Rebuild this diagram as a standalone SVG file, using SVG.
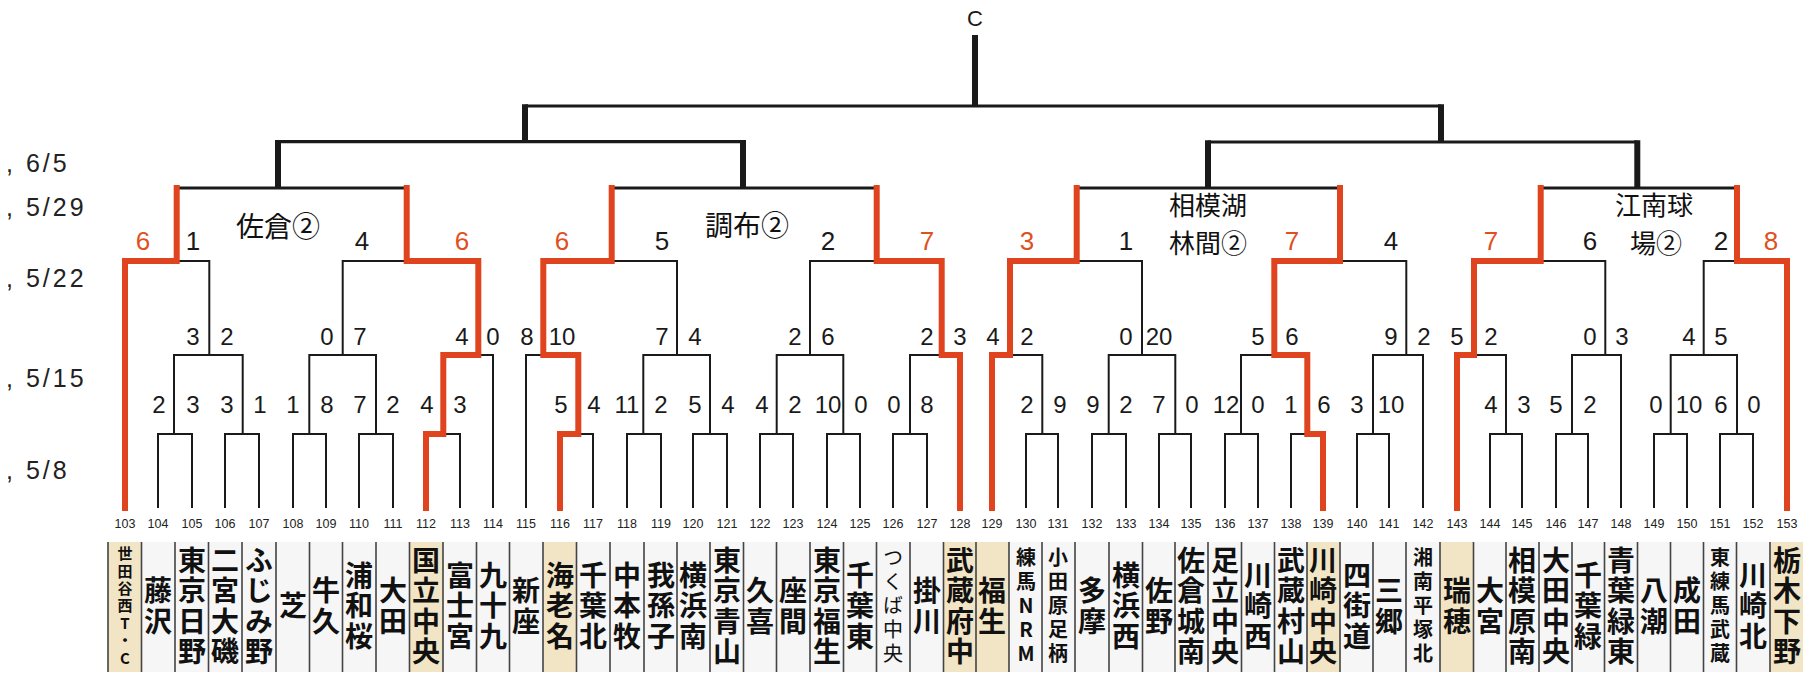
<svg xmlns="http://www.w3.org/2000/svg" width="1804" height="676" viewBox="0 0 1804 676">
<style>
.ln{stroke:#1a1a1a;stroke-width:2;fill:none;stroke-linejoin:miter}
.h3{stroke:#1a1a1a;stroke-width:3.2;fill:none}
.v6{stroke:#1a1a1a;stroke-width:6;fill:none}
.rd{stroke:#e0441e;stroke-width:6;fill:none;stroke-linejoin:miter;stroke-linecap:square}
.sc{font-family:'Liberation Sans',Arial,sans-serif;font-size:24px;text-anchor:middle;fill:#1a1a1a}
.s3{font-size:26px}
.red{fill:#e0501e}
.no{font-family:'Liberation Sans',Arial,sans-serif;font-size:12.5px;text-anchor:middle;fill:#222}
.nm{font-family:'Noto Sans CJK JP','Noto Sans CJK SC',sans-serif;font-weight:700;font-size:28px;writing-mode:vertical-rl;text-orientation:upright;text-anchor:middle;letter-spacing:2.5px;fill:#111}
.n5{font-size:20px;letter-spacing:4px}
.n7{font-size:15px;letter-spacing:2.4px}
.reg{font-weight:400}
.cell{fill:#f6f6f6}
.win{fill:#f2e5c6}
.sep{stroke:#444;stroke-width:1.6}
.lbl{font-family:'Noto Sans CJK JP','Noto Sans CJK SC',sans-serif;font-size:28px;text-anchor:middle;fill:#111}
.l2{font-size:26px}
.dt{font-family:'Liberation Sans',Arial,sans-serif;font-size:25px;letter-spacing:3px;fill:#222}
</style>
<rect width="1804" height="676" fill="#ffffff"/>

<g id="dates">
<text class="dt" x="6" y="172">, 6/5</text>
<text class="dt" x="6" y="216">, 5/29</text>
<text class="dt" x="6" y="287">, 5/22</text>
<text class="dt" x="6" y="387">, 5/15</text>
<text class="dt" x="6" y="479">, 5/8</text>
</g>

<g id="title-c"><text x="975" y="26" font-family="'Liberation Sans',Arial,sans-serif" font-size="22" text-anchor="middle" fill="#1a1a1a">C</text></g>

<g id="connectors">
<!-- Q1 -->
<path class="ln" d="M158 508V434H192V508M225 508V434H259V508M293 508V434H326V508M359 508V434H393V508M426 508V434H460V508"/>
<path class="ln" d="M174 434V355H242.7V434M309.3 434V355H376V434M443.3 434V355H493V508"/>
<path class="ln" d="M125 508V261H209.3V355M342.7 355V261H478.3V355"/>
<!-- Q2 -->
<path class="ln" d="M560 508V434H593V508M627 508V434H661V508M693 508V434H727V508M760 508V434H793V508M827 508V434H860V508M893 508V434H927V508"/>
<path class="ln" d="M526 508V355H578.3V434M643.3 434V355H710V434M776.7 434V355H843.3V434M910 434V355H960V508"/>
<path class="ln" d="M543.3 355V261H677V355M810 355V261H941.7V355"/>
<!-- Q3 -->
<path class="ln" d="M1026 508V434H1058V508M1092 508V434H1126V508M1159 508V434H1191V508M1225 508V434H1258V508M1291 508V434H1323V508M1357 508V434H1389V508"/>
<path class="ln" d="M992 508V355H1042.3V434M1108.7 434V355H1175.3V434M1241 434V355H1307.3V434M1373 434V355H1423V508"/>
<path class="ln" d="M1010 355V261H1142V355M1274.3 355V261H1406.3V355"/>
<!-- Q4 -->
<path class="ln" d="M1490 508V434H1522V508M1556 508V434H1588V508M1654 508V434H1687V508M1720 508V434H1753V508"/>
<path class="ln" d="M1457 508V355H1506V434M1572 434V355H1621V508M1670.7 434V355H1737V434"/>
<path class="ln" d="M1474 355V261H1605.3V355M1703.7 355V261H1787V508"/>
<!-- R4 bars -->
<path class="h3" d="M176.7 188H406.7M611.7 188H876.7M1076.7 188H1340M1540.7 188H1737"/>
<!-- top structure -->
<path class="h3" d="M278 141.7H743M1208 142H1637.3M525 106H1441"/>
<path class="v6" d="M278 188V140M743 188V140M1208 188V140.3M1637.3 188V140.3M525 142V104.3M1441 142V104.3M975 106V35"/>
<!-- winners (red) -->
<path class="rd" d="M125 508V261H176.7V188"/>
<path class="rd" d="M426 508V434H443.3V355H478.3V261H406.7V188"/>
<path class="rd" d="M560 508V434H578.3V355H543.3V261H611.7V188"/>
<path class="rd" d="M960 508V355H941.7V261H876.7V188"/>
<path class="rd" d="M992 508V355H1010V261H1076.7V188"/>
<path class="rd" d="M1323 508V434H1307.3V355H1274.3V261H1340V188"/>
<path class="rd" d="M1457 508V355H1474V261H1540.7V188"/>
<path class="rd" d="M1787 508V261H1737V188"/>
</g>

<g id="scores">
<!-- round 1 -->
<text class="sc" x="159" y="413">2</text><text class="sc" x="193" y="413">3</text><text class="sc" x="227" y="413">3</text><text class="sc" x="260" y="413">1</text>
<text class="sc" x="293" y="413">1</text><text class="sc" x="327" y="413">8</text><text class="sc" x="360" y="413">7</text><text class="sc" x="393" y="413">2</text>
<text class="sc" x="427" y="413">4</text><text class="sc" x="460" y="413">3</text>
<text class="sc" x="561" y="413">5</text><text class="sc" x="594" y="413">4</text><text class="sc" x="627" y="413">11</text><text class="sc" x="661" y="413">2</text>
<text class="sc" x="695" y="413">5</text><text class="sc" x="728" y="413">4</text><text class="sc" x="762" y="413">4</text><text class="sc" x="795" y="413">2</text>
<text class="sc" x="828" y="413">10</text><text class="sc" x="861" y="413">0</text><text class="sc" x="894" y="413">0</text><text class="sc" x="927" y="413">8</text>
<text class="sc" x="1027" y="413">2</text><text class="sc" x="1060" y="413">9</text><text class="sc" x="1093" y="413">9</text><text class="sc" x="1126" y="413">2</text>
<text class="sc" x="1159" y="413">7</text><text class="sc" x="1192" y="413">0</text><text class="sc" x="1226" y="413">12</text><text class="sc" x="1258" y="413">0</text>
<text class="sc" x="1291" y="413">1</text><text class="sc" x="1324" y="413">6</text><text class="sc" x="1357" y="413">3</text><text class="sc" x="1391" y="413">10</text>
<text class="sc" x="1491" y="413">4</text><text class="sc" x="1524" y="413">3</text><text class="sc" x="1556" y="413">5</text><text class="sc" x="1590" y="413">2</text>
<text class="sc" x="1656" y="413">0</text><text class="sc" x="1689" y="413">10</text><text class="sc" x="1721" y="413">6</text><text class="sc" x="1754" y="413">0</text>
<!-- round 2 -->
<text class="sc" x="193" y="345">3</text><text class="sc" x="227" y="345">2</text><text class="sc" x="327" y="345">0</text><text class="sc" x="360" y="345">7</text>
<text class="sc" x="462" y="345">4</text><text class="sc" x="493" y="345">0</text>
<text class="sc" x="527" y="345">8</text><text class="sc" x="562" y="345">10</text><text class="sc" x="662" y="345">7</text><text class="sc" x="695" y="345">4</text>
<text class="sc" x="795" y="345">2</text><text class="sc" x="828" y="345">6</text><text class="sc" x="927" y="345">2</text><text class="sc" x="960" y="345">3</text>
<text class="sc" x="993" y="345">4</text><text class="sc" x="1027" y="345">2</text><text class="sc" x="1126" y="345">0</text><text class="sc" x="1159" y="345">20</text>
<text class="sc" x="1258" y="345">5</text><text class="sc" x="1292" y="345">6</text><text class="sc" x="1391" y="345">9</text><text class="sc" x="1424" y="345">2</text>
<text class="sc" x="1457" y="345">5</text><text class="sc" x="1491" y="345">2</text><text class="sc" x="1590" y="345">0</text><text class="sc" x="1622" y="345">3</text>
<text class="sc" x="1689" y="345">4</text><text class="sc" x="1721" y="345">5</text>
<!-- round 3 -->
<text class="sc s3 red" x="143" y="250">6</text><text class="sc s3" x="193" y="250">1</text><text class="sc s3" x="362" y="250">4</text><text class="sc s3 red" x="462" y="250">6</text>
<text class="sc s3 red" x="562" y="250">6</text><text class="sc s3" x="662" y="250">5</text><text class="sc s3" x="828" y="250">2</text><text class="sc s3 red" x="927" y="250">7</text>
<text class="sc s3 red" x="1027" y="250">3</text><text class="sc s3" x="1126" y="250">1</text><text class="sc s3 red" x="1292" y="250">7</text><text class="sc s3" x="1391" y="250">4</text>
<text class="sc s3 red" x="1491" y="250">7</text><text class="sc s3" x="1590" y="250">6</text><text class="sc s3" x="1721" y="250">2</text><text class="sc s3 red" x="1771" y="250">8</text>
</g>

<g id="venue-sakura"><text class="lbl" x="278" y="237">佐倉②</text></g>
<g id="venue-chofu"><text class="lbl" x="747" y="236">調布②</text></g>
<g id="venue-sagamiko"><text class="lbl l2" x="1208" y="215">相模湖<tspan x="1208" dy="38">林間②</tspan></text></g>
<g id="venue-konan"><text class="lbl l2" x="1654" y="215">江南球<tspan x="1656" dy="38">場②</tspan></text></g>

<g id="teams">
<g id="t103"><rect class="win" x="108" y="542" width="33.5" height="130"/><text class="no" x="125" y="528">103</text><text class="nm n7" x="125" y="607">世田谷西T・C</text></g>
<g id="t104"><rect class="cell" x="141.5" y="542" width="33.5" height="130"/><text class="no" x="158" y="528">104</text><text class="nm" x="158" y="607">藤沢</text></g>
<g id="t105"><rect class="cell" x="175" y="542" width="33.5" height="130"/><text class="no" x="192" y="528">105</text><text class="nm" x="192" y="607">東京日野</text></g>
<g id="t106"><rect class="cell" x="208.5" y="542" width="33.5" height="130"/><text class="no" x="225" y="528">106</text><text class="nm" x="225" y="607">二宮大磯</text></g>
<g id="t107"><rect class="cell" x="242" y="542" width="34" height="130"/><text class="no" x="259" y="528">107</text><text class="nm" x="259" y="607">ふじみ野</text></g>
<g id="t108"><rect class="cell" x="276" y="542" width="33.5" height="130"/><text class="no" x="293" y="528">108</text><text class="nm" x="293" y="607">芝</text></g>
<g id="t109"><rect class="cell" x="309.5" y="542" width="33" height="130"/><text class="no" x="326" y="528">109</text><text class="nm" x="326" y="607">牛久</text></g>
<g id="t110"><rect class="cell" x="342.5" y="542" width="33.5" height="130"/><text class="no" x="359" y="528">110</text><text class="nm" x="359" y="607">浦和桜</text></g>
<g id="t111"><rect class="cell" x="376" y="542" width="33.5" height="130"/><text class="no" x="393" y="528">111</text><text class="nm" x="393" y="607">大田</text></g>
<g id="t112"><rect class="win" x="409.5" y="542" width="33.5" height="130"/><text class="no" x="426" y="528">112</text><text class="nm" x="426" y="607">国立中央</text></g>
<g id="t113"><rect class="cell" x="443" y="542" width="33.5" height="130"/><text class="no" x="460" y="528">113</text><text class="nm" x="460" y="607">富士宮</text></g>
<g id="t114"><rect class="cell" x="476.5" y="542" width="33" height="130"/><text class="no" x="493" y="528">114</text><text class="nm" x="493" y="607">九十九</text></g>
<g id="t115"><rect class="cell" x="509.5" y="542" width="33.5" height="130"/><text class="no" x="526" y="528">115</text><text class="nm" x="526" y="607">新座</text></g>
<g id="t116"><rect class="win" x="543" y="542" width="33.5" height="130"/><text class="no" x="560" y="528">116</text><text class="nm" x="560" y="607">海老名</text></g>
<g id="t117"><rect class="cell" x="576.5" y="542" width="33.5" height="130"/><text class="no" x="593" y="528">117</text><text class="nm" x="593" y="607">千葉北</text></g>
<g id="t118"><rect class="cell" x="610" y="542" width="34" height="130"/><text class="no" x="627" y="528">118</text><text class="nm" x="627" y="607">中本牧</text></g>
<g id="t119"><rect class="cell" x="644" y="542" width="33" height="130"/><text class="no" x="661" y="528">119</text><text class="nm" x="661" y="607">我孫子</text></g>
<g id="t120"><rect class="cell" x="677" y="542" width="33" height="130"/><text class="no" x="693" y="528">120</text><text class="nm" x="693" y="607">横浜南</text></g>
<g id="t121"><rect class="cell" x="710" y="542" width="33.5" height="130"/><text class="no" x="727" y="528">121</text><text class="nm" x="727" y="607">東京青山</text></g>
<g id="t122"><rect class="cell" x="743.5" y="542" width="33" height="130"/><text class="no" x="760" y="528">122</text><text class="nm" x="760" y="607">久喜</text></g>
<g id="t123"><rect class="cell" x="776.5" y="542" width="33.5" height="130"/><text class="no" x="793" y="528">123</text><text class="nm" x="793" y="607">座間</text></g>
<g id="t124"><rect class="cell" x="810" y="542" width="33.5" height="130"/><text class="no" x="827" y="528">124</text><text class="nm" x="827" y="607">東京福生</text></g>
<g id="t125"><rect class="cell" x="843.5" y="542" width="33" height="130"/><text class="no" x="860" y="528">125</text><text class="nm" x="860" y="607">千葉東</text></g>
<g id="t126"><rect class="cell" x="876.5" y="542" width="33.5" height="130"/><text class="no" x="893" y="528">126</text><text class="nm n5 reg" x="893" y="607">つくば中央</text></g>
<g id="t127"><rect class="cell" x="910" y="542" width="33.5" height="130"/><text class="no" x="927" y="528">127</text><text class="nm" x="927" y="607">掛川</text></g>
<g id="t128"><rect class="win" x="943.5" y="542" width="32.5" height="130"/><text class="no" x="960" y="528">128</text><text class="nm" x="960" y="607">武蔵府中</text></g>
<g id="t129"><rect class="win" x="976" y="542" width="33" height="130"/><text class="no" x="992" y="528">129</text><text class="nm" x="992" y="607">福生</text></g>
<g id="t130"><rect class="cell" x="1009" y="542" width="33" height="130"/><text class="no" x="1026" y="528">130</text><text class="nm n5" x="1026" y="607">練馬NRM</text></g>
<g id="t131"><rect class="cell" x="1042" y="542" width="33" height="130"/><text class="no" x="1058" y="528">131</text><text class="nm n5" x="1058" y="607">小田原足柄</text></g>
<g id="t132"><rect class="cell" x="1075" y="542" width="34" height="130"/><text class="no" x="1092" y="528">132</text><text class="nm" x="1092" y="607">多摩</text></g>
<g id="t133"><rect class="cell" x="1109" y="542" width="33.5" height="130"/><text class="no" x="1126" y="528">133</text><text class="nm" x="1126" y="607">横浜西</text></g>
<g id="t134"><rect class="cell" x="1142.5" y="542" width="32.5" height="130"/><text class="no" x="1159" y="528">134</text><text class="nm" x="1159" y="607">佐野</text></g>
<g id="t135"><rect class="cell" x="1175" y="542" width="33" height="130"/><text class="no" x="1191" y="528">135</text><text class="nm" x="1191" y="607">佐倉城南</text></g>
<g id="t136"><rect class="cell" x="1208" y="542" width="33.5" height="130"/><text class="no" x="1225" y="528">136</text><text class="nm" x="1225" y="607">足立中央</text></g>
<g id="t137"><rect class="cell" x="1241.5" y="542" width="33" height="130"/><text class="no" x="1258" y="528">137</text><text class="nm" x="1258" y="607">川崎西</text></g>
<g id="t138"><rect class="cell" x="1274.5" y="542" width="32.5" height="130"/><text class="no" x="1291" y="528">138</text><text class="nm" x="1291" y="607">武蔵村山</text></g>
<g id="t139"><rect class="win" x="1307" y="542" width="33" height="130"/><text class="no" x="1323" y="528">139</text><text class="nm" x="1323" y="607">川崎中央</text></g>
<g id="t140"><rect class="cell" x="1340" y="542" width="33" height="130"/><text class="no" x="1357" y="528">140</text><text class="nm" x="1357" y="607">四街道</text></g>
<g id="t141"><rect class="cell" x="1373" y="542" width="33" height="130"/><text class="no" x="1389" y="528">141</text><text class="nm" x="1389" y="607">三郷</text></g>
<g id="t142"><rect class="cell" x="1406" y="542" width="34" height="130"/><text class="no" x="1423" y="528">142</text><text class="nm n5" x="1423" y="607">湘南平塚北</text></g>
<g id="t143"><rect class="win" x="1440" y="542" width="33.5" height="130"/><text class="no" x="1457" y="528">143</text><text class="nm" x="1457" y="607">瑞穂</text></g>
<g id="t144"><rect class="cell" x="1473.5" y="542" width="32.5" height="130"/><text class="no" x="1490" y="528">144</text><text class="nm" x="1490" y="607">大宮</text></g>
<g id="t145"><rect class="cell" x="1506" y="542" width="33" height="130"/><text class="no" x="1522" y="528">145</text><text class="nm" x="1522" y="607">相模原南</text></g>
<g id="t146"><rect class="cell" x="1539" y="542" width="33" height="130"/><text class="no" x="1556" y="528">146</text><text class="nm" x="1556" y="607">大田中央</text></g>
<g id="t147"><rect class="cell" x="1572" y="542" width="32.5" height="130"/><text class="no" x="1588" y="528">147</text><text class="nm" x="1588" y="607">千葉緑</text></g>
<g id="t148"><rect class="cell" x="1604.5" y="542" width="33" height="130"/><text class="no" x="1621" y="528">148</text><text class="nm" x="1621" y="607">青葉緑東</text></g>
<g id="t149"><rect class="cell" x="1637.5" y="542" width="33" height="130"/><text class="no" x="1654" y="528">149</text><text class="nm" x="1654" y="607">八潮</text></g>
<g id="t150"><rect class="cell" x="1670.5" y="542" width="33" height="130"/><text class="no" x="1687" y="528">150</text><text class="nm" x="1687" y="607">成田</text></g>
<g id="t151"><rect class="cell" x="1703.5" y="542" width="33" height="130"/><text class="no" x="1720" y="528">151</text><text class="nm n5" x="1720" y="607">東練馬武蔵</text></g>
<g id="t152"><rect class="cell" x="1736.5" y="542" width="33.5" height="130"/><text class="no" x="1753" y="528">152</text><text class="nm" x="1753" y="607">川崎北</text></g>
<g id="t153"><rect class="win" x="1770" y="542" width="33" height="130"/><text class="no" x="1787" y="528">153</text><text class="nm" x="1787" y="607">栃木下野</text></g>
</g>

<g id="cell-separators">
<path class="sep" d="M108 542V672M141.5 542V672M175 542V672M208.5 542V672M242 542V672M276 542V672M309.5 542V672M342.5 542V672M376 542V672M409.5 542V672M443 542V672M476.5 542V672M509.5 542V672M543 542V672M576.5 542V672M610 542V672M644 542V672M677 542V672M710 542V672M743.5 542V672M776.5 542V672M810 542V672M843.5 542V672M876.5 542V672M910 542V672M943.5 542V672M976 542V672M1009 542V672M1042 542V672M1075 542V672M1109 542V672M1142.5 542V672M1175 542V672M1208 542V672M1241.5 542V672M1274.5 542V672M1307 542V672M1340 542V672M1373 542V672M1406 542V672M1440 542V672M1473.5 542V672M1506 542V672M1539 542V672M1572 542V672M1604.5 542V672M1637.5 542V672M1670.5 542V672M1703.5 542V672M1736.5 542V672M1770 542V672"/>
</g>
</svg>
